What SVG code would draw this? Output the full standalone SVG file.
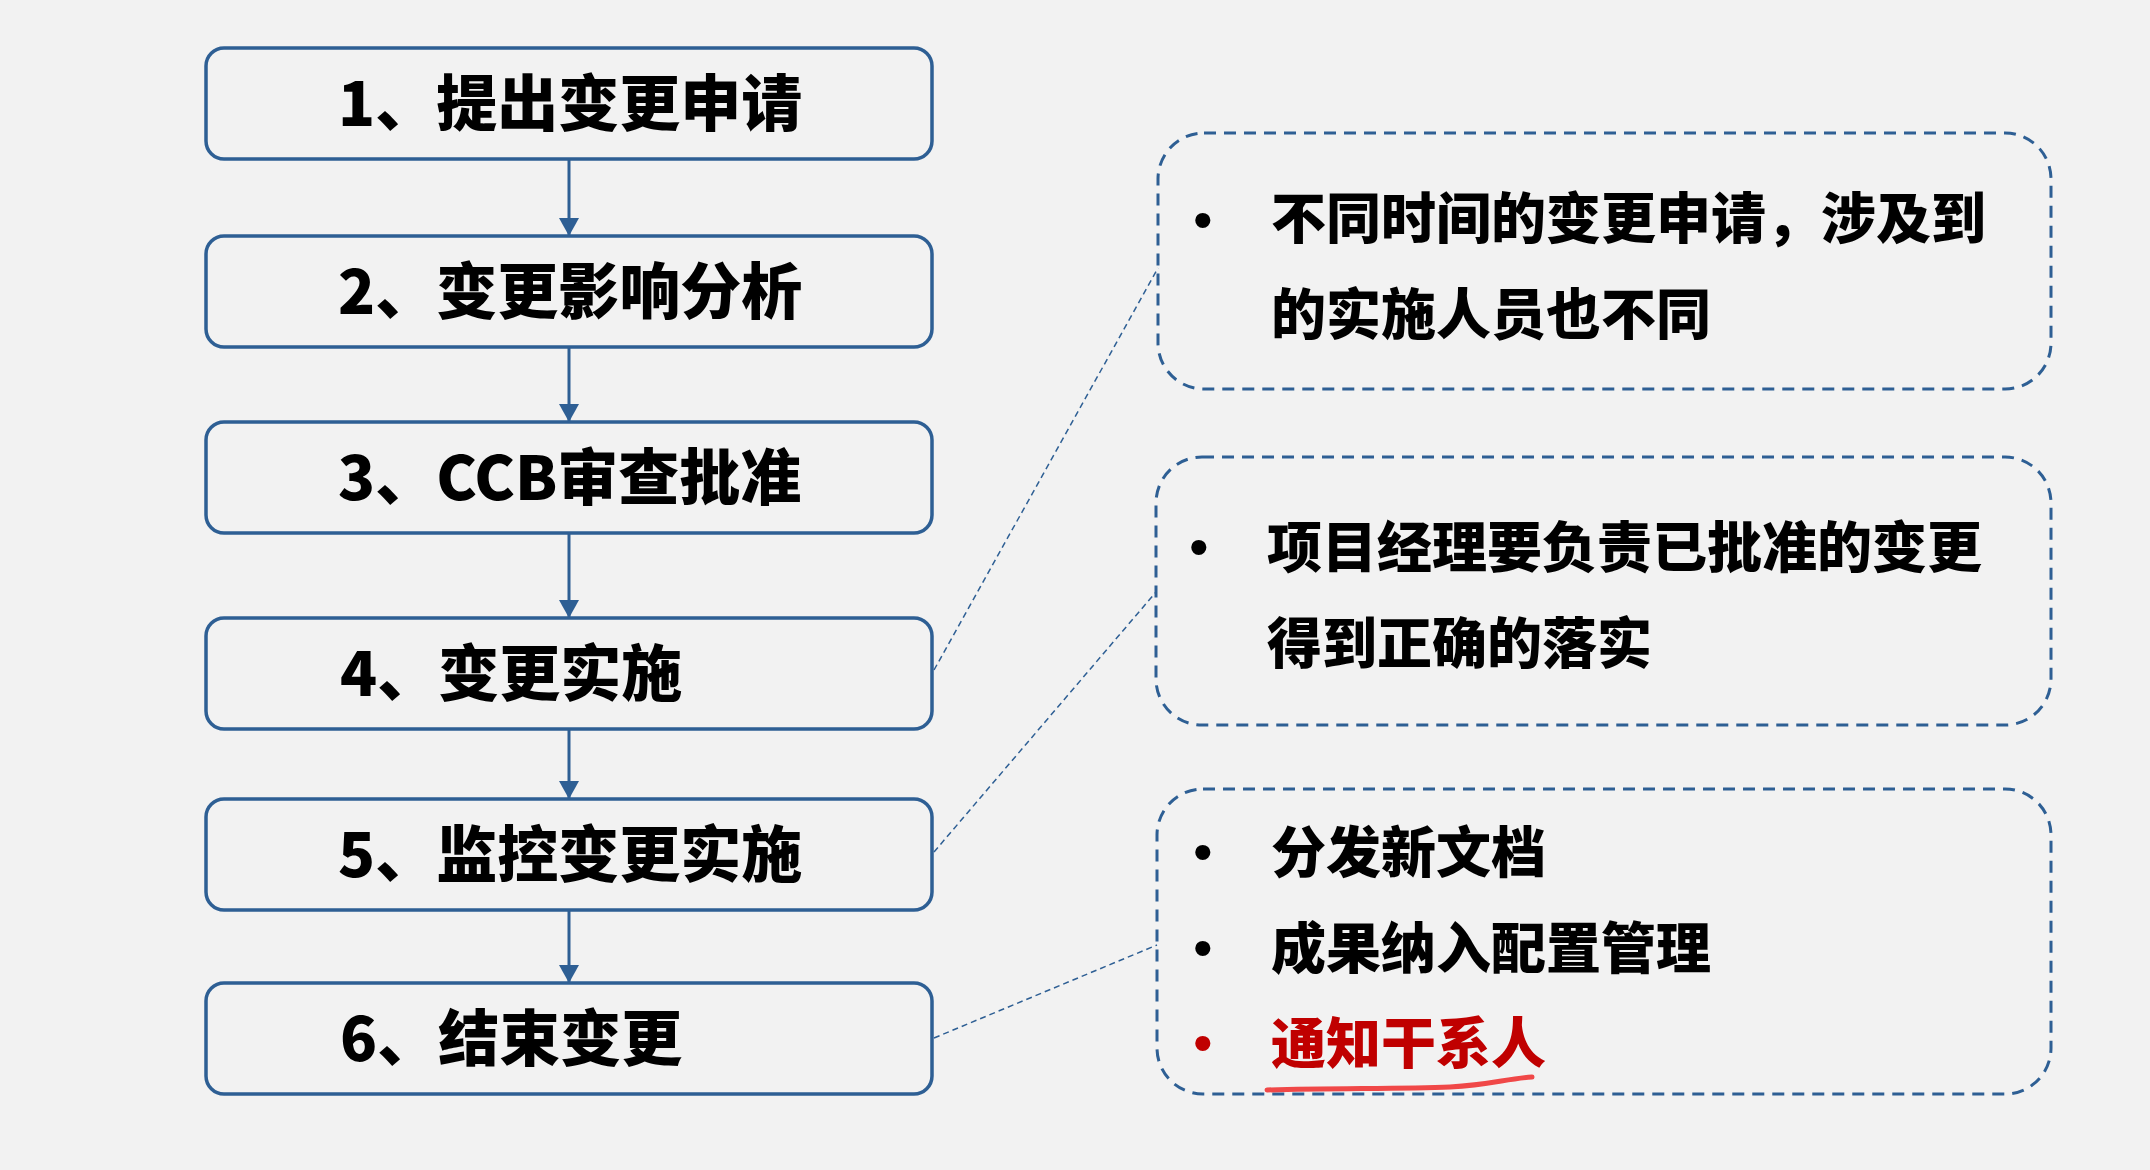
<svg xmlns="http://www.w3.org/2000/svg" width="2150" height="1170" viewBox="0 0 2150 1170">
<defs>
<style>
.step{fill:#F2F2F2;stroke:#2E5F94;stroke-width:3.5}
.steptxt{font-family:"Noto Sans CJK SC","Noto Sans",sans-serif;font-weight:900;font-size:61px;fill:#000}
.note{fill:none;stroke:#2E5F94;stroke-width:3;stroke-dasharray:12 8}
.notetxt{font-family:"Noto Sans CJK SC","Noto Sans",sans-serif;font-weight:900;font-size:55px;fill:#000}
.bullet{font-family:"Liberation Sans",sans-serif;font-size:56px;fill:#000}
.arrow{stroke:#2E5F94;stroke-width:3;fill:none;marker-end:url(#ah)}
.lead{stroke:#2E5F94;stroke-width:1.5;fill:none;stroke-dasharray:6 4}
</style>
<marker id="ah" viewBox="0 0 18 20" refX="18" refY="10" markerWidth="18" markerHeight="20" markerUnits="userSpaceOnUse" orient="auto">
<path d="M0,0 L18,10 L0,20 Z" fill="#2E5F94"/>
</marker>
</defs>
<rect width="2150" height="1170" fill="#F2F2F2"/>

<g id="connectors">
<line class="arrow" x1="569" y1="159" x2="569" y2="236"/>
<line class="arrow" x1="569" y1="347" x2="569" y2="422"/>
<line class="arrow" x1="569" y1="533" x2="569" y2="618"/>
<line class="arrow" x1="569" y1="729" x2="569" y2="799"/>
<line class="arrow" x1="569" y1="910" x2="569" y2="983"/>
<line class="lead" x1="934" y1="670" x2="1158" y2="268"/>
<line class="lead" x1="934" y1="852" x2="1156" y2="592"/>
<line class="lead" x1="934" y1="1038" x2="1157" y2="945"/>
</g>

<g id="step1"><rect class="step" x="206" y="48" width="726" height="111" rx="18"/><text class="steptxt" x="338" y="126">1、提出变更申请</text></g>
<g id="step2"><rect class="step" x="206" y="236" width="726" height="111" rx="18"/><text class="steptxt" x="338" y="314">2、变更影响分析</text></g>
<g id="step3"><rect class="step" x="206" y="422" width="726" height="111" rx="18"/><text class="steptxt" x="338" y="500">3、CCB审查批准</text></g>
<g id="step4"><rect class="step" x="206" y="618" width="726" height="111" rx="18"/><text class="steptxt" x="340" y="696">4、变更实施</text></g>
<g id="step5"><rect class="step" x="206" y="799" width="726" height="111" rx="18"/><text class="steptxt" x="338" y="877">5、监控变更实施</text></g>
<g id="step6"><rect class="step" x="206" y="983" width="726" height="111" rx="18"/><text class="steptxt" x="340" y="1061">6、结束变更</text></g>

<g id="noteA">
<rect class="note" x="1158" y="133" width="893" height="256" rx="46"/>
<text class="bullet" x="1193" y="239">•</text>
<text class="notetxt" x="1271" y="238">不同时间的变更申请，涉及到</text>
<text class="notetxt" x="1271" y="334">的实施人员也不同</text>
</g>
<g id="noteB">
<rect class="note" x="1156" y="457" width="895" height="268" rx="46"/>
<text class="bullet" x="1189" y="566">•</text>
<text class="notetxt" x="1267" y="567">项目经理要负责已批准的变更</text>
<text class="notetxt" x="1267" y="663">得到正确的落实</text>
</g>
<g id="noteC">
<rect class="note" x="1157" y="789" width="894" height="305" rx="46"/>
<text class="bullet" x="1193" y="871">•</text>
<text class="notetxt" x="1271" y="872">分发新文档</text>
<text class="bullet" x="1193" y="967">•</text>
<text class="notetxt" x="1271" y="968">成果纳入配置管理</text>
<text class="bullet" x="1193" y="1062" style="fill:#C00000">•</text>
<text class="notetxt" x="1271" y="1063" style="fill:#C00000">通知干系人</text>
<path d="M1267,1090 C1330,1088 1400,1089 1450,1087 C1490,1085 1505,1079 1532,1077" fill="none" stroke="#F04848" stroke-width="5" stroke-linecap="round"/>
</g>
</svg>
